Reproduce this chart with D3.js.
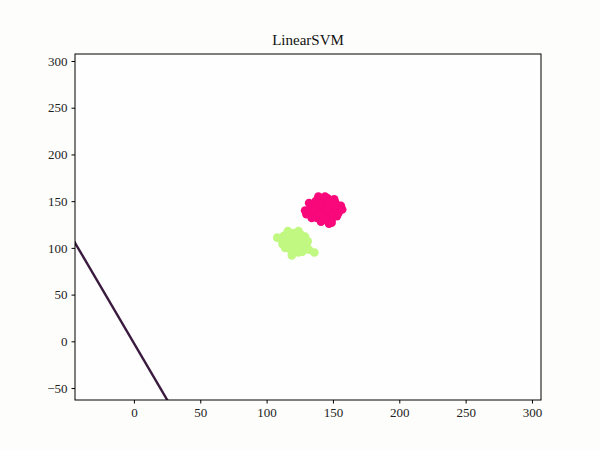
<!DOCTYPE html>
<html>
<head>
<meta charset="utf-8">
<script src="https://cdn.jsdelivr.net/npm/d3@7"></script>
<style>
  body { margin: 0; background: #fdfdfb; }
  svg { display: block; }
  .tick text { font-family: "Liberation Serif", "DejaVu Serif", serif; font-size: 13px; fill: #222; }
</style>
</head>
<body>
<div id="chart"></div>
<script>
// data
var xTicks = [0, 50, 100, 150, 200, 250, 300];
var yTicks = [-50, 0, 50, 100, 150, 200, 250, 300];

var pinkX = [140,145,150,135,142,148,138,152,130,146,141,155,136,149,144,133,151,139,147,153,137,143,129,156,140,145,134,150,142,148,
             132,154,138,146,151,136,144,157,141,149];
var pinkY = [140,145,142,138,150,135,132,148,136,153,128,140,146,130,138,143,152,155,126,134,150,133,140,145,147,130,132,138,142,150,
             148,137,137,141,145,141,155,141,135,127];

var greenX = [115,120,125,118,122,128,112,116,124,130,110,119,126,121,114,132,117,123,127,120,113,129,125,118,136,108,122,116,131,124,
              119,127,113,121,117,125];
var greenY = [110,105,100,98,112,108,104,118,95,103,110,92,114,100,100,98,106,108,96,116,113,112,104,110,95,111,97,102,107,118,
              115,103,107,95,113,110];

// separating line endpoints
var lineX = [-60, 40];
var lineY = [143.2, -98.8];

var margin = {top: 54, right: 59, bottom: 50, left: 75},
    width = 600 - margin.left - margin.right,
    height = 450 - margin.top - margin.bottom;

var x = d3.scaleLinear().domain([-44.4, 306.8]).range([0, width]);
var y = d3.scaleLinear().domain([-62.8, 307.5]).range([height, 0]);

var svg = d3.select("#chart").append("svg")
    .attr("width", 600)
    .attr("height", 450)
  .append("g")
    .attr("transform", "translate(" + margin.left + "," + margin.top + ")");

svg.append("defs").append("clipPath").attr("id", "clip")
  .append("rect").attr("width", width).attr("height", height);

svg.append("rect")
    .attr("width", width).attr("height", height)
    .attr("fill", "#fefefe");

var plot = svg.append("g").attr("clip-path", "url(#clip)");

plot.selectAll(".g").data(greenX).enter().append("circle")
    .attr("cx", function(d) { return x(d); })
    .attr("cy", function(d, i) { return y(greenY[i]); })
    .attr("r", 4.3)
    .attr("fill", "#c0f882");

plot.selectAll(".p").data(pinkX).enter().append("circle")
    .attr("cx", function(d) { return x(d); })
    .attr("cy", function(d, i) { return y(pinkY[i]); })
    .attr("r", 4.3)
    .attr("fill", "#f8087a");

plot.append("line")
    .attr("x1", x(lineX[0])).attr("y1", y(lineY[0]))
    .attr("x2", x(lineX[1])).attr("y2", y(lineY[1]))
    .attr("stroke", "#3a1a3e")
    .attr("stroke-width", 2.4);

// axes
svg.append("g")
    .attr("transform", "translate(0," + height + ")")
    .call(d3.axisBottom(x).tickValues(xTicks).tickSize(3.5).tickPadding(4))
    .call(function(g) { g.select(".domain").remove(); });

svg.append("g")
    .call(d3.axisLeft(y).tickValues(yTicks).tickSize(3.5).tickPadding(4))
    .call(function(g) { g.select(".domain").remove(); });

svg.append("rect")
    .attr("width", width).attr("height", height)
    .attr("fill", "none").attr("stroke", "#000").attr("stroke-width", 1);

svg.append("text")
    .attr("x", width / 2).attr("y", -9)
    .attr("text-anchor", "middle")
    .style("font-family", "'Liberation Serif', 'DejaVu Serif', serif")
    .style("font-size", "15px")
    .style("fill", "#111")
    .text("LinearSVM");
</script>
</body>
</html>
